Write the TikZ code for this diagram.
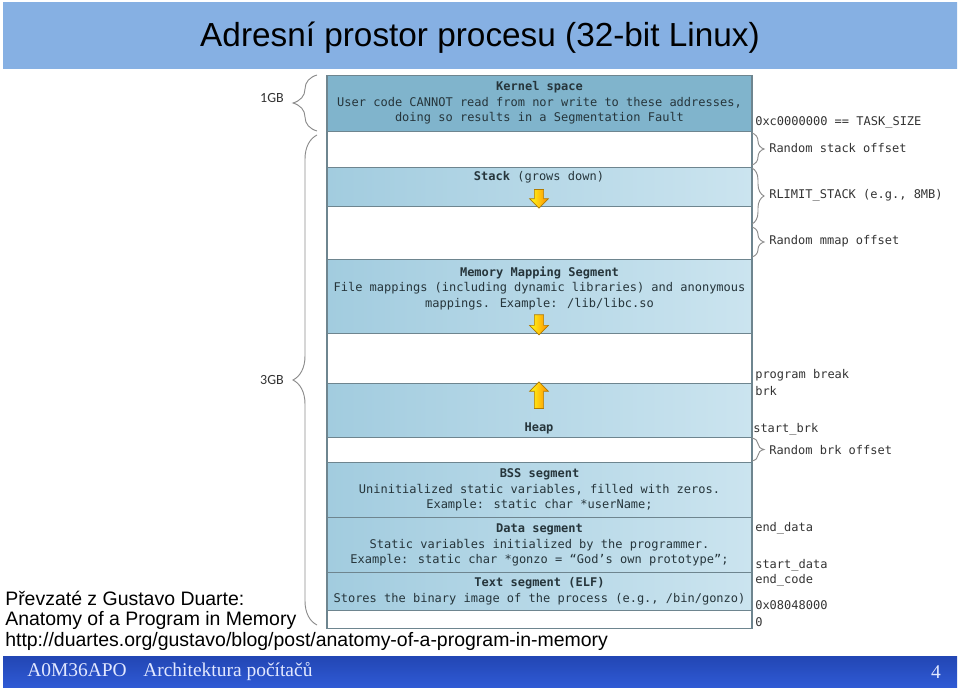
\documentclass[tikz,border=0pt]{standalone}
\usepackage{fontspec}
\setmainfont{Liberation Sans}
\newfontfamily\monofont{DejaVu Sans Mono}
\newfontfamily\footfont{Liberation Serif}
\newfontfamily\labelfont{Carlito}
\usepackage{tikz}
\usetikzlibrary{arrows.meta, positioning, shapes.arrows, decorations.pathreplacing}

\definecolor{barblue}{HTML}{86B0E3}
\definecolor{barlight}{HTML}{A8CDF6}
\definecolor{kernelblue}{HTML}{80B4CC}
\definecolor{seglight}{HTML}{A2CCDF}
\definecolor{segpale}{HTML}{CBE4EF}
\definecolor{segline}{HTML}{6E858F}
\definecolor{segtext}{HTML}{26353B}
\definecolor{addrgray}{HTML}{333333}
\definecolor{bracegray}{HTML}{8C8C8C}
\definecolor{footdark}{HTML}{2246B4}
\definecolor{footmid}{HTML}{4C82FF}
\definecolor{footlow}{HTML}{2F5AD4}
\definecolor{foottext}{HTML}{E2E8FF}
\definecolor{arrowedge}{HTML}{B07A00}

\tikzset{
  seg/.style={draw=segline, line width=0.8pt, minimum width=318.75pt,
    inner sep=0pt, anchor=north},
  kernelseg/.style={seg, fill=kernelblue},
  userseg/.style={seg, left color=seglight, right color=segpale},
  freeseg/.style={seg, fill=white},
  segtext/.style={font=\monofont\fontsize{9}{11.6}\selectfont, text=segtext,
    align=center, inner sep=0pt},
  addr/.style={font=\monofont\fontsize{9}{11}\selectfont, text=addrgray,
    anchor=west, inner sep=0pt},
  sizelabel/.style={font=\labelfont\fontsize{10.5}{12}\selectfont, text=addrgray,
    inner sep=0pt},
  sizebrace/.style={decorate, decoration={brace, amplitude=#1}, draw=bracegray,
    line width=0.7pt},
  yarrow/.style={single arrow, draw=arrowedge, line width=0.5pt,
    left color=yellow!90!white, right color=orange!90!yellow,
    inner sep=3.2pt, single arrow head extend=3.6pt, minimum height=#1},
  note/.style={font=\fontsize{14.6}{16}\selectfont, anchor=west, inner sep=0pt}
}

\begin{document}
\begin{tikzpicture}[x=0.75pt, y=-0.75pt]
  \useasboundingbox (0,0) rectangle (960,689);
  % title bar
  \node[minimum width=715.5pt, minimum height=49.5pt, inner sep=0pt,
    top color=barblue, middle color=barlight, bottom color=barblue] (title)
    at (480,35) {};
  \node[font=\fontsize{25}{28}\selectfont, inner sep=0pt] (titletxt) at (480,38)
    {Adresní prostor procesu (32-bit Linux)};
  % segments, top to bottom
  \node[kernelseg, minimum height=42pt] (kernel) at (539.5,75) {};
  \node[freeseg, minimum height=27pt] (gapstack) at (539.5,131) {};
  \node[userseg, minimum height=29.25pt] (stack) at (539.5,167) {};
  \node[freeseg, minimum height=39.75pt] (gapmmap) at (539.5,206) {};
  \node[userseg, minimum height=55.5pt] (mmap) at (539.5,259) {};
  \node[freeseg, minimum height=37.5pt] (unused) at (539.5,333) {};
  \node[userseg, minimum height=40.5pt] (heap) at (539.5,383) {};
  \node[freeseg, minimum height=18.75pt] (gapbrk) at (539.5,437) {};
  \node[userseg, minimum height=41.25pt] (bss) at (539.5,462) {};
  \node[userseg, minimum height=41.25pt] (data) at (539.5,517) {};
  \node[userseg, minimum height=28.5pt] (text) at (539.5,572) {};
  \node[freeseg, minimum height=13.5pt] (bottom) at (539.5,610) {};
  % texts in the segments
  \node[segtext] (kerneltxt) at (539.5,103) {\textbf{Kernel space}\\
    User code CANNOT read from nor write to these addresses,\\
    doing so results in a Segmentation Fault};
  \node[segtext] (stacktxt) at (539,177) {\textbf{Stack} (grows down)};
  \node[segtext] (mmaptxt) at (539.5,288) {\textbf{Memory Mapping Segment}\\
    File mappings (including dynamic libraries) and anonymous\\
    mappings. Example: /lib/libc.so};
  \node[segtext] (heaptxt) at (539,428) {\textbf{Heap}};
  \node[segtext] (bsstxt) at (539.5,490) {\textbf{BSS segment}\\
    Uninitialized static variables, filled with zeros.\\
    Example: static char *userName;};
  \node[segtext] (datatxt) at (539.5,545) {\textbf{Data segment}\\
    Static variables initialized by the programmer.\\
    Example: static char *gonzo = “God’s own prototype”;};
  \node[segtext] (texttxt) at (539.5,591) {\textbf{Text segment (ELF)}\\
    Stores the binary image of the process (e.g., /bin/gonzo)};
  % growth arrows
  \node[yarrow=14pt, shape border rotate=270] (stackarrow) at (539,196.5) {};
  \node[yarrow=15pt, shape border rotate=270] (mmaparrow) at (539,322.5) {};
  \node[yarrow=20pt, shape border rotate=90] (heaparrow) at (539,397.5) {};
  % left braces
  \draw[sizebrace=18pt] (317,131) -- (317,75);
  \draw[sizebrace=18pt] (317,625) -- (317,135);
  \node[sizelabel] (onegb) at (272,98) {1GB};
  \node[sizelabel] (threegb) at (272,380) {3GB};
  % right braces
  \draw[sizebrace=9pt] (752,133) -- (752,165);
  \draw[sizebrace=9pt] (752,168) -- (752,224);
  \draw[sizebrace=9pt] (752,227) -- (752,257);
  \draw[sizebrace=9pt] (752,438) -- (752,461);
  \node[addr] (stackoff) at (769,148) {Random stack offset};
  \node[addr] (rlimit) at (769,195) {RLIMIT\_STACK (e.g., 8MB)};
  \node[addr] (mmapoff) at (769,241) {Random mmap offset};
  \node[addr] (brkoff) at (769,450) {Random brk offset};
  % addresses
  \node[addr] (tasksize) at (755,122) {0xc0000000 == TASK\_SIZE};
  \node[addr] (progbreak) at (755,375) {program break};
  \node[addr] (brk) at (755,391) {brk};
  \node[addr] (startbrk) at (753,429) {start\_brk};
  \node[addr] (enddata) at (755,528) {end\_data};
  \node[addr] (startdata) at (755,565) {start\_data};
  \node[addr] (endcode) at (755,580) {end\_code};
  \node[addr] (textstart) at (755,605) {0x08048000};
  \node[addr] (zero) at (755,622) {0};
  % source note
  \node[note] (source) at (5,598) {Převzaté z Gustavo Duarte:};
  \node[note] (article) at (5,620) {Anatomy of a Program in Memory};
  \node[note] (url) at (5,641)
    {http://duartes.org/gustavo/blog/post/anatomy-of-a-program-in-memory};
  % footer bar
  \node[minimum width=715.5pt, minimum height=23.25pt, inner sep=0pt,
    top color=footdark, middle color=footmid, bottom color=footlow] (footer)
    at (480,671.5) {};
  \node[font=\footfont\fontsize{14.6}{16}\selectfont, text=foottext, anchor=west,
    inner sep=0pt] (course) at (27,672) {A0M36APO\hspace{0.6em} Architektura počítačů};
  \node[font=\footfont\fontsize{14.6}{16}\selectfont, text=foottext, inner sep=0pt]
    (page) at (936,672) {4};
\end{tikzpicture}
\end{document}
